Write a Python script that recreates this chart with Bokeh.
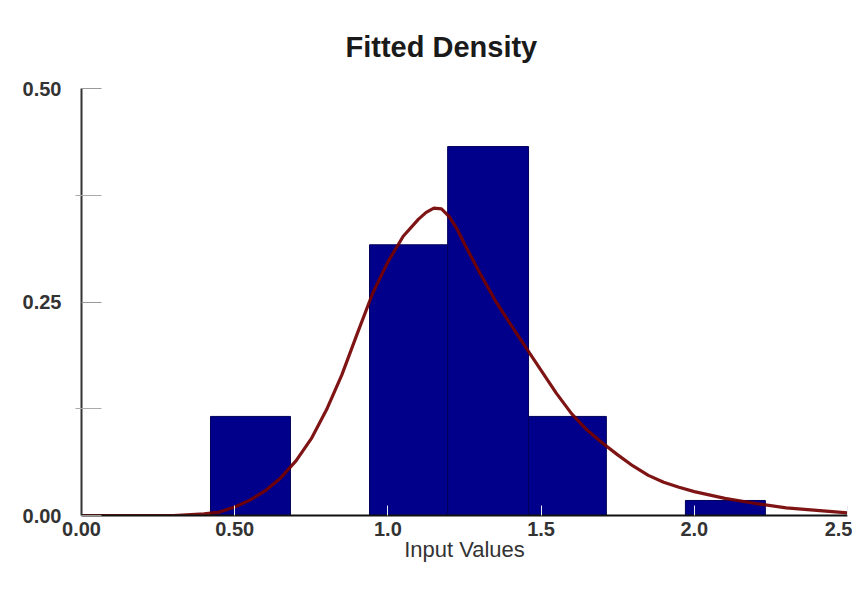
from bokeh.plotting import figure
from bokeh.models import FixedTicker, Range1d, ColumnDataSource
from bokeh.embed import file_html
from bokeh.resources import INLINE

# Histogram bins (density)
bin_left = [0.421, 0.940, 1.195, 1.459, 1.971]
bin_right = [0.682, 1.195, 1.459, 1.713, 2.232]
density = [0.116, 0.317, 0.432, 0.116, 0.0176]

# Fitted density curve
curve_x = [0.00, 0.30, 0.40, 0.45, 0.50, 0.55, 0.60, 0.65, 0.70, 0.75, 0.80, 0.85,
           0.90, 0.95, 1.00, 1.05, 1.10, 1.125, 1.15, 1.175, 1.20, 1.225, 1.25, 1.30,
           1.35, 1.40, 1.45, 1.50, 1.55, 1.60, 1.65, 1.70, 1.75, 1.80, 1.85, 1.90,
           1.95, 2.00, 2.10, 2.20, 2.30, 2.40, 2.50]
curve_y = [0.000, 0.000, 0.002, 0.004, 0.010, 0.018, 0.029, 0.044, 0.064, 0.090, 0.124, 0.165,
           0.213, 0.260, 0.297, 0.327, 0.347, 0.355, 0.360, 0.359, 0.350, 0.336, 0.318, 0.284,
           0.252, 0.224, 0.197, 0.170, 0.143, 0.119, 0.100, 0.085, 0.071, 0.058, 0.047, 0.039,
           0.033, 0.028, 0.020, 0.014, 0.009, 0.006, 0.003]

x_ticks = [0.0, 0.5, 1.0, 1.5, 2.0, 2.5]
x_tick_labels = ["0.00", "0.50", "1.0", "1.5", "2.0", "2.5"]
y_ticks = [0.0, 0.25, 0.5]
y_minor = [0.125, 0.375]
y_tick_labels = ["0.00", "0.25", "0.50"]

FONT = "Liberation Sans"

p = figure(width=852, height=587, output_backend="svg", toolbar_location=None,
           x_range=Range1d(0, 2.5), y_range=Range1d(0, 0.5),
           min_border_left=81, min_border_right=5, min_border_top=88, min_border_bottom=72)

p.title.text = "Fitted Density"
p.title.align = "left"
p.title.text_font = FONT
p.title.text_font_size = "29px"
p.title.text_font_style = "bold"
p.title.text_color = "#1a1a1a"
p.title.standoff = 52
p.title.offset = 264

p.outline_line_color = None
p.xgrid.grid_line_color = None
p.ygrid.grid_line_color = None
p.background_fill_color = "white"
p.border_fill_color = "white"

src = ColumnDataSource(dict(left=bin_left, right=bin_right, top=density, bottom=[0] * len(density)))
p.quad(left="left", right="right", top="top", bottom="bottom", source=src,
       fill_color="#00008a", line_color="#00005a", line_width=1)

p.line(curve_x, curve_y, line_color="#740000", line_width=3.2, line_alpha=0.92)

xa = p.xaxis[0]
xa.ticker = FixedTicker(ticks=x_ticks)
xa.major_label_overrides = {t: l for t, l in zip(x_ticks, x_tick_labels)}
xa.axis_label = "Input Values"
xa.axis_label_text_font = FONT
xa.axis_label_text_font_style = "normal"
xa.axis_label_text_font_size = "22px"
xa.axis_label_text_color = "#333333"
xa.axis_label_standoff = -2
xa.major_label_text_font = FONT
xa.major_label_text_font_size = "20px"
xa.major_label_text_font_style = "bold"
xa.major_label_text_color = "#333333"
xa.major_label_standoff = 6
xa.axis_line_color = "#111111"
xa.axis_line_width = 2
xa.major_tick_in = 10
xa.major_tick_out = 0
xa.major_tick_line_color = "#e8e8f0"
xa.minor_tick_line_color = None

ya = p.yaxis[0]
ya.ticker = FixedTicker(ticks=y_ticks, minor_ticks=y_minor)
ya.major_label_overrides = {t: l for t, l in zip(y_ticks, y_tick_labels)}
ya.major_label_text_font = FONT
ya.major_label_text_font_size = "20px"
ya.major_label_text_font_style = "bold"
ya.major_label_text_color = "#333333"
ya.major_label_standoff = 14
ya.axis_line_color = "#333333"
ya.axis_line_width = 2
ya.major_tick_in = 20
ya.major_tick_out = 0
ya.major_tick_line_color = "#999999"
ya.minor_tick_in = 20
ya.minor_tick_out = 6
ya.minor_tick_line_color = "#aaaaaa"

open("out.html", "w").write(file_html(p, INLINE))
